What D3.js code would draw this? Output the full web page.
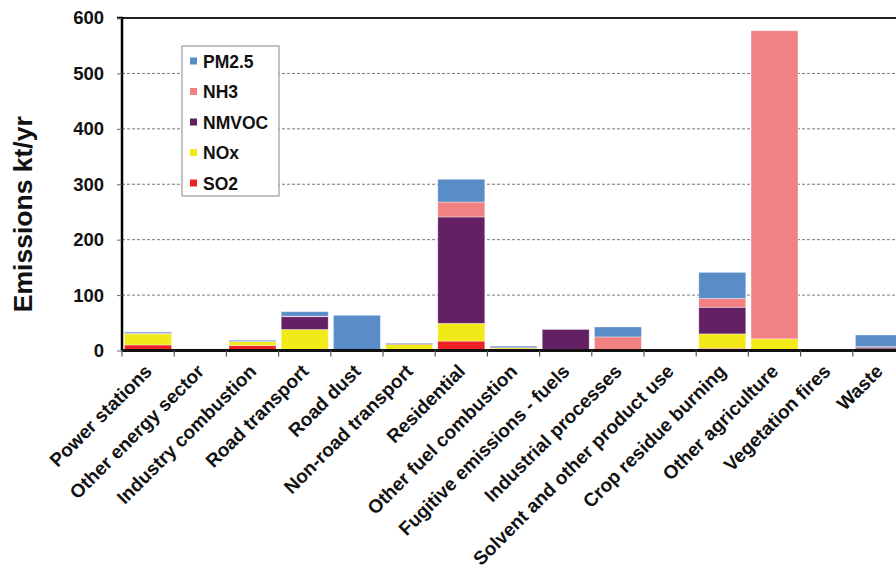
<!DOCTYPE html>
<html><head><meta charset="utf-8">
<script src="https://cdn.jsdelivr.net/npm/d3@7"></script>
<style>body{margin:0;background:#fff}svg{display:block}text{font-family:"Liberation Sans",Arial,sans-serif;font-weight:bold}</style>
</head><body><svg id="c" width="896" height="569"></svg>
<script>
const categories = ["Power stations","Other energy sector","Industry combustion","Road transport","Road dust","Non-road transport","Residential","Other fuel combustion","Fugitive emissions - fuels","Industrial processes","Solvent and other product use","Crop residue burning","Other agriculture","Vegetation fires","Waste"];
const seriesNames = ["SO2","NOx","NMVOC","NH3","PM2.5"];
const SO2   = [10, 0.3, 9, 1.5, 0, 1, 17, 2, 0.5, 1, 0, 4, 0, 0, 0.5];
const NOx   = [20, 0.5, 7, 36.5, 0, 10, 32, 2.5, 1.5, 0.5, 0, 26, 21, 0, 2.5];
const NMVOC = [1, 2, 0.5, 23, 0, 1.5, 192, 1.5, 36, 0, 0, 48, 0, 0, 3];
const NH3   = [0.5, 0, 0, 1, 0, 0, 27, 0, 0, 23, 0, 16, 556, 0, 1];
const PM25  = [2, 0, 2, 8, 63.5, 1, 41, 2, 0, 18, 0, 47, 0, 0, 21];
const yTicks = [0,100,200,300,400,500,600];
const colors = {"SO2":"#ee2124","NOx":"#f2ea18","NMVOC":"#632062","NH3":"#f28183","PM2.5":"#5a8cc8"};
const legendOrder = ["PM2.5","NH3","NMVOC","NOx","SO2"];

const valuesBy = {"SO2":SO2,"NOx":NOx,"NMVOC":NMVOC,"NH3":NH3,"PM2.5":PM25};
const rows = categories.map((c,i)=>{const r={cat:c}; seriesNames.forEach(s=>r[s]=valuesBy[s][i]); return r;});
const stack = d3.stack().keys(seriesNames)(rows);

const svg = d3.select("#c");
const L=122, R=905, T=18, B=350.5;
const x = d3.scaleBand().domain(categories).range([L,R]).paddingInner(0.1).paddingOuter(0.05);
const y = d3.scaleLinear().domain([0,600]).range([B,T]);

svg.append("g").selectAll("line").data(yTicks.filter(t=>t>0&&t<600)).join("line")
  .attr("x1",L).attr("x2",R).attr("y1",d=>y(d)).attr("y2",d=>y(d))
  .attr("stroke","#7a7a7a").attr("stroke-width",1).attr("stroke-dasharray","3,2");
svg.append("line").attr("x1",L).attr("x2",R).attr("y1",T).attr("y2",T).attr("stroke","#222").attr("stroke-width",2);

svg.append("g").selectAll("g").data(stack).join("g").attr("fill",d=>colors[d.key])
  .selectAll("rect").data(d=>d).join("rect")
  .attr("x",d=>x(d.data.cat)).attr("width",x.bandwidth())
  .attr("y",d=>y(d[1])).attr("height",d=>Math.max(0,y(d[0])-y(d[1])))
  .attr("stroke","#ffffff").attr("stroke-opacity",0.45).attr("stroke-width",0.8);

const ya = svg.append("g").attr("transform",`translate(${L},0)`)
  .call(d3.axisLeft(y).tickValues(yTicks).tickSize(5).tickPadding(13));
ya.select(".domain").attr("stroke","#000").attr("stroke-width",2.5).attr("d",`M-5,${T}H0V${B}`);
ya.selectAll(".tick line").attr("stroke","#666");
ya.selectAll(".tick text").attr("font-size",18.5).attr("font-weight","bold").attr("fill","#111").attr("font-family","Liberation Sans, Arial, sans-serif");

const xa = svg.append("g").attr("transform",`translate(0,${B})`)
  .call(d3.axisBottom(x).tickSize(0).tickFormat(""));
xa.select(".domain").attr("stroke","#111").attr("stroke-width",3).attr("d",`M${L},0H${R}`);
const bounds = categories.map(c=>x(c)-x.step()*x.paddingInner()/2);
svg.append("g").selectAll("line").data(bounds).join("line")
  .attr("x1",d=>d).attr("x2",d=>d).attr("y1",B).attr("y2",B+6).attr("stroke","#555").attr("stroke-width",1.2);
svg.append("g").selectAll("text").data(categories).join("text")
  .attr("transform",d=>`translate(${x(d)+x.bandwidth()/2+5},${B+22}) rotate(-45)`)
  .attr("text-anchor","end").attr("font-size",19).attr("fill","#111").text(d=>d);

svg.append("text").attr("transform",`translate(32,${(T+B)/2+30}) rotate(-90)`)
  .attr("text-anchor","middle").attr("font-size",26.5).attr("fill","#111").text("Emissions kt/yr");

const lg = svg.append("g");
lg.append("rect").attr("x",182).attr("y",46).attr("width",97).attr("height",150)
  .attr("fill","#fff").attr("stroke","#9a9a9a").attr("stroke-width",1.2);
const li = lg.selectAll("g.li").data(legendOrder).join("g").attr("class","li")
  .attr("transform",(d,i)=>`translate(190,${61+i*30.5})`);
li.append("rect").attr("x",0).attr("y",-3.5).attr("width",7).attr("height",7).attr("fill",d=>colors[d]);
li.append("text").attr("x",13).attr("y",6.5).attr("font-size",17.5).attr("fill","#111").text(d=>d);
</script></body></html>
